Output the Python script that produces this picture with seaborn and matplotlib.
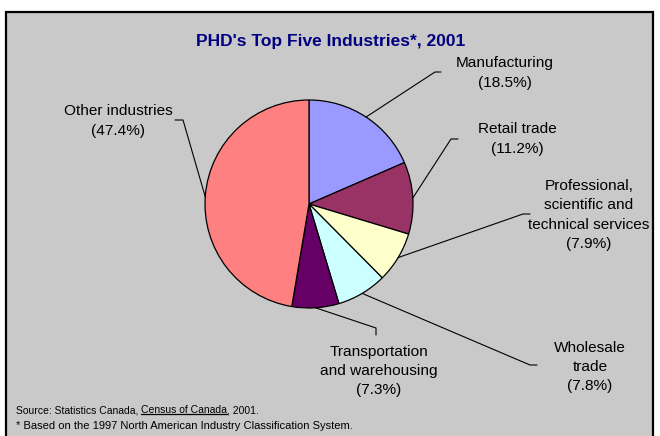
import numpy as np
import matplotlib
matplotlib.use("Agg")
import matplotlib.pyplot as plt
import seaborn as sns
from matplotlib.patches import Rectangle
from matplotlib.lines import Line2D

# ---- data ----
categories = ["Manufacturing", "Retail trade",
              "Professional,\nscientific and\ntechnical services",
              "Wholesale\ntrade", "Transportation\nand warehousing",
              "Other industries"]
shares = [18.5, 11.2, 7.9, 7.8, 7.3, 47.4]
colors = ["#9999FF", "#993366", "#FFFFCC", "#CCFFFF", "#660066", "#FF8080"]
title = "PHD's Top Five Industries*, 2001"
source_parts = ["Source: Statistics Canada, ", "Census of Canada", ", 2001."]
footnote = "* Based on the 1997 North American Industry Classification System."

sns.set_theme(style="white")
plt.rcParams["font.family"] = ["Liberation Sans", "DejaVu Sans"]

W, H = 660, 436
fig = plt.figure(figsize=(W / 100, H / 100), dpi=100)
fig.patch.set_facecolor("white")
ax = fig.add_axes([0, 0, 1, 1])

def Y(y):  # pixel (top-down) -> data
    return H - y

# panel background / frame
ax.add_patch(Rectangle((6, -10), 647, Y(12) + 10, facecolor="#C9C9C9",
                       edgecolor="black", linewidth=1.6, zorder=0))

cx, cy, R = 309, 204, 104
wedges, _ = ax.pie(shares, colors=colors, startangle=90, counterclock=False,
                   center=(cx, Y(cy)), radius=R,
                   wedgeprops=dict(edgecolor="black", linewidth=0.9))
for w in wedges:
    w.set_zorder(2)
ax.set_xlim(0, W)
ax.set_ylim(0, H)
ax.set_aspect("auto")
ax.axis("off")

# labels and leader lines (layout positions in pixels, top-down)
label_pos = [(505, 73), (517, 139), (589, 215), (590, 367), (379, 371), (118, 121)]
elbows = [[(435, 72), (441, 72)], [(451, 139), (458, 139)],
          [(523, 214), (530, 214)], [(530, 365), (537, 365)],
          [(376, 328), (376, 335)], [(183, 120), (175, 120)]]
angle_override = {5: 176.0}

cum = 0.0
total = sum(shares)
for i, (cat, val) in enumerate(zip(categories, shares)):
    a0 = 90 - 360 * cum / total
    a1 = 90 - 360 * (cum + val) / total
    cum += val
    mid = angle_override.get(i, (a0 + a1) / 2)
    sx = cx + R * np.cos(np.radians(mid))
    sy = Y(cy) + R * np.sin(np.radians(mid))
    xs = [sx] + [p[0] for p in elbows[i]]
    ys = [sy] + [Y(p[1]) for p in elbows[i]]
    ax.plot(xs, ys, color="black", lw=0.8, zorder=3)
    lx, ly = label_pos[i]
    ax.text(lx, Y(ly), f"{cat}\n({val}%)", ha="center", va="center",
            multialignment="center", fontsize=11.1, linespacing=1.48,
            color="black", zorder=4)

ax.text(331, Y(42), title, ha="center", va="center", fontsize=12.5,
        fontweight="bold", color="#000080")

ssize = 7.5
t1 = ax.text(16, Y(410), source_parts[0], ha="left", va="center",
             fontsize=ssize, color="black")
t2 = ax.annotate(source_parts[1], xy=(1, 0), xycoords=t1, ha="left", va="bottom",
                 fontsize=ssize, color="black")
t3 = ax.annotate(source_parts[2], xy=(1, 0), xycoords=t2, ha="left", va="bottom",
                 fontsize=ssize, color="black")
ax.text(16, Y(426), footnote, ha="left", va="center", fontsize=8,
        color="black")

fig.canvas.draw()
bb = t2.get_window_extent()
inv = ax.transData.inverted()
(x0, y0), (x1, _) = inv.transform([(bb.x0, bb.y0), (bb.x1, bb.y0)])
ax.add_line(Line2D([x0, x1], [y0 + 1.5, y0 + 1.5], color="black", lw=0.9))

fig.savefig("out.png", dpi=100, facecolor="white")
